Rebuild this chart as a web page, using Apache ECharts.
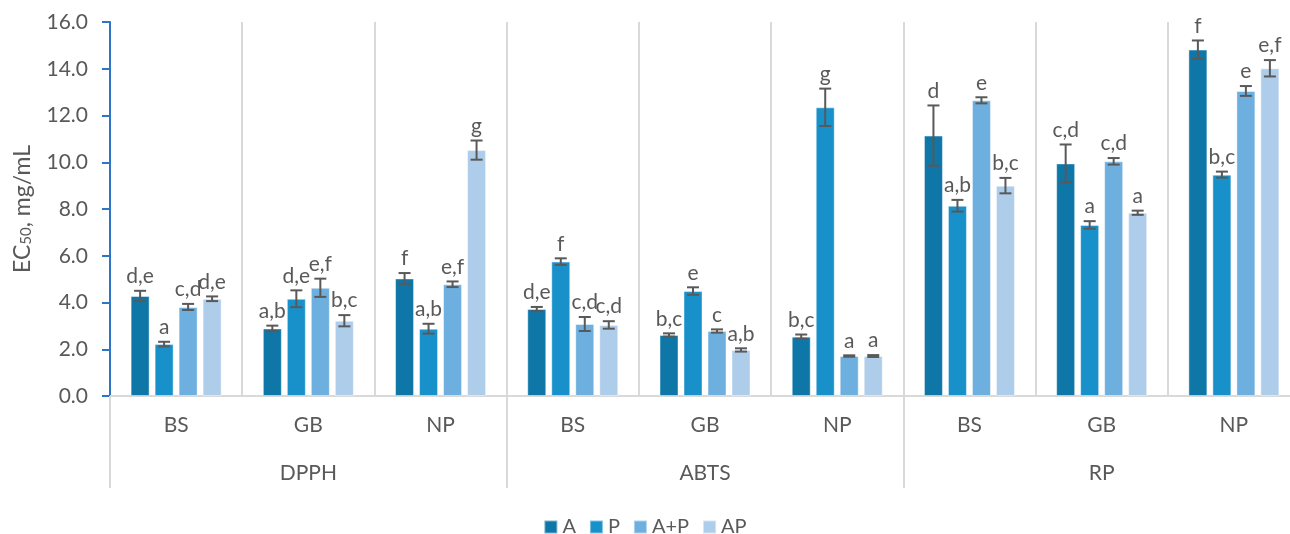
<!DOCTYPE html>
<html>
<head>
<meta charset="utf-8">
<style>
  html, body { margin: 0; padding: 0; background: #fff; }
  #chart { width: 1290px; height: 534px; }
</style>
<script src="https://cdn.jsdelivr.net/npm/echarts@6/dist/echarts.min.js"></script>
</head>
<body>
<div id="chart"></div>
<script>
// Extract origin (inner axis) and assay (outer axis)
const subCategories = ['BS', 'GB', 'NP', 'BS', 'GB', 'NP', 'BS', 'GB', 'NP'];
const assays = ['DPPH', 'ABTS', 'RP'];
const seriesNames = ['A', 'P', 'A+P', 'AP'];
const yTicks = [0, 2, 4, 6, 8, 10, 12, 14, 16];

// EC50 means (mg/mL), one value per extract and assay
const valuesA   = [4.28, 2.89, 5.03, 3.72, 2.61, 2.54, 11.14, 9.95, 14.82];
const valuesP   = [2.22, 4.16, 2.88, 5.75, 4.49, 12.35, 8.14, 7.32, 9.47];
const valuesAP1 = [3.81, 4.63, 4.78, 3.08, 2.78, 1.71, 12.65, 10.04, 13.05];
const valuesAP2 = [4.16, 3.22, 10.52, 3.04, 1.97, 1.71, 9.00, 7.84, 14.02];

// Standard deviations
const errorsA   = [0.22, 0.12, 0.23, 0.09, 0.07, 0.09, 1.29, 0.81, 0.39];
const errorsP   = [0.10, 0.36, 0.21, 0.14, 0.16, 0.80, 0.25, 0.16, 0.13];
const errorsAP1 = [0.13, 0.39, 0.12, 0.30, 0.07, 0.03, 0.13, 0.14, 0.21];
const errorsAP2 = [0.10, 0.24, 0.41, 0.16, 0.07, 0.04, 0.33, 0.09, 0.35];

// Significance letters
const lettersA   = ['d,e', 'a,b', 'f', 'd,e', 'b,c', 'b,c', 'd', 'c,d', 'f'];
const lettersP   = ['a', 'd,e', 'a,b', 'f', 'e', 'g', 'a,b', 'a', 'b,c'];
const lettersAP1 = ['c,d', 'e,f', 'e,f', 'c,d', 'c', 'a', 'e', 'c,d', 'e'];
const lettersAP2 = ['d,e', 'b,c', 'g', 'c,d', 'a,b', 'a', 'b,c', 'a', 'e,f'];

const colors = ['#0e77a8', '#1891cb', '#6dafde', '#aecdea'];
const allValues = [valuesA, valuesP, valuesAP1, valuesAP2];
const allErrors = [errorsA, errorsP, errorsAP1, errorsAP2];
const allLetters = [lettersA, lettersP, lettersAP1, lettersAP2];

const FONT = 'Lato, "Open Sans", sans-serif';
const TEXT = '#595959';
const BAR_W = 19;
const BAR_STEP = 24; // bar width + gap between neighbouring bars

const barSeries = seriesNames.map((name, i) => ({
  name: name,
  type: 'bar',
  xAxisIndex: 0,
  barWidth: BAR_W,
  barGap: ((BAR_STEP - BAR_W) / BAR_W * 100) + '%',
  itemStyle: { color: colors[i], borderColor: 'rgba(255,255,255,0.45)', borderWidth: 1 },
  data: allValues[i],
  z: 2
}));

// Error bars and letters drawn over each bar
const errorSeries = seriesNames.map((name, i) => ({
  type: 'custom',
  xAxisIndex: 0,
  silent: true,
  z: 5,
  data: allValues[i].map((v, k) => [k, v, allErrors[i][k], allLetters[i][k]]),
  renderItem: function (params, api) {
    const k = api.value(0);
    const v = api.value(1);
    const e = api.value(2);
    const dx = (i - 1.5) * BAR_STEP;
    const top = api.coord([k, v + e]);
    const bot = api.coord([k, v - e]);
    const x = top[0] + dx;
    const cap = 6;
    const ls = { stroke: TEXT, lineWidth: 2 };
    return {
      type: 'group',
      children: [
        { type: 'line', shape: { x1: x, y1: top[1], x2: x, y2: bot[1] }, style: ls },
        { type: 'line', shape: { x1: x - cap, y1: top[1], x2: x + cap, y2: top[1] }, style: ls },
        { type: 'line', shape: { x1: x - cap, y1: bot[1], x2: x + cap, y2: bot[1] }, style: ls },
        {
          type: 'text',
          style: {
            x: x, y: top[1] - 4,
            text: allLetters[i][k],
            fill: TEXT,
            font: '21px ' + FONT,
            align: 'center',
            verticalAlign: 'bottom'
          }
        }
      ]
    };
  }
}));

const chart = echarts.init(document.getElementById('chart'), null, { renderer: 'canvas' });
chart.setOption({
  animation: false,
  backgroundColor: '#fff',
  textStyle: { fontFamily: FONT },
  // the last category runs slightly past the right edge of the canvas
  grid: { left: 110, width: 1190, top: 22, height: 374, containLabel: false, outerBoundsMode: 'none' },
  legend: {
    data: seriesNames,
    top: 512,
    left: 'center',
    icon: 'rect',
    itemWidth: 13,
    itemHeight: 13,
    itemGap: 13,
    textStyle: { fontSize: 20, color: TEXT, fontFamily: FONT, padding: [0, 0, 0, 0] }
  },
  xAxis: [
    {
      type: 'category',
      data: subCategories,
      position: 'bottom',
      axisLine: { show: true, lineStyle: { color: '#d9d9d9', width: 2 } },
      axisTick: { show: false },
      axisLabel: { fontSize: 21, color: TEXT, margin: 19, fontFamily: FONT },
      splitLine: { show: true, interval: 0, lineStyle: { color: '#d9d9d9', width: 2 } }
    },
    {
      type: 'category',
      data: assays,
      position: 'bottom',
      axisLine: { show: false },
      axisTick: { show: true, length: 92, lineStyle: { color: '#d9d9d9', width: 2 } },
      axisLabel: { fontSize: 21, color: TEXT, margin: 67, fontFamily: FONT },
      splitLine: { show: false }
    }
  ],
  yAxis: {
    type: 'value',
    min: yTicks[0],
    max: yTicks[yTicks.length - 1],
    interval: 2,
    name: '{n|EC}{s|50}{n|, mg/mL}',
    nameLocation: 'middle',
    nameGap: 76,
    nameTextStyle: {
      color: TEXT,
      rich: {
        n: { fontSize: 23, color: TEXT, fontFamily: FONT },
        s: { fontSize: 15, color: TEXT, fontFamily: FONT, verticalAlign: 'bottom', padding: [8, 0, 0, 0] }
      }
    },
    axisLine: { show: true, lineStyle: { color: '#2e75c8', width: 2 } },
    axisTick: { show: true, inside: false, length: 8, lineStyle: { color: '#2e75c8', width: 2 } },
    axisLabel: { fontSize: 21, color: TEXT, margin: 22, fontFamily: FONT, formatter: v => v.toFixed(1) },
    splitLine: { show: false }
  },
  series: barSeries.concat(errorSeries)
});
</script>
</body>
</html>
